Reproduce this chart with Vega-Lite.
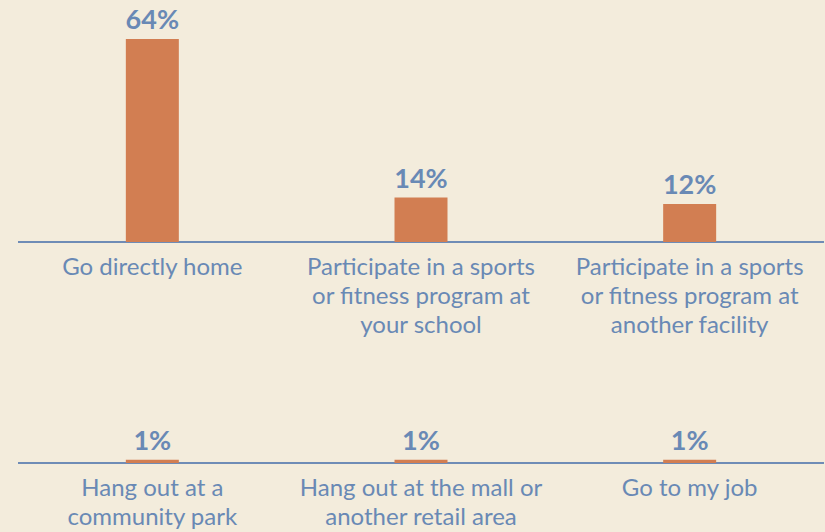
{
  "$schema": "https://vega.github.io/schema/vega-lite/v6.json",
  "background": "#f3ecdc",
  "autosize": {"type": "none"},
  "padding": {"left": 18, "top": 0, "right": 1, "bottom": 0},
  "width": 806,
  "height": 532,
  "data": {
    "values": [
      {"row": 1, "col": 1, "value": 0.64, "label": "Go directly home"},
      {"row": 1, "col": 2, "value": 0.14, "label": "Participate in a sports\nor fitness program at\nyour school"},
      {"row": 1, "col": 3, "value": 0.12, "label": "Participate in a sports\nor fitness program at\nanother facility"},
      {"row": 2, "col": 1, "value": 0.01, "label": "Hang out at a\ncommunity park"},
      {"row": 2, "col": 2, "value": 0.01, "label": "Hang out at the mall or\nanother retail area"},
      {"row": 2, "col": 3, "value": 0.01, "label": "Go to my job"}
    ]
  },
  "resolve": {"scale": {"y": "independent"}},
  "layer": [
    {
      "transform": [{"filter": "datum.row == 1"}],
      "layer": [
        {
          "mark": {"type": "rule", "color": "#6f8cb6", "strokeWidth": 2},
          "encoding": {
            "y": {"datum": 0, "type": "quantitative", "scale": {"domain": [-0.9148, 0.7634], "nice": false}, "axis": null}
          }
        },
        {
          "mark": {"type": "bar", "color": "#d27e52", "width": 53},
          "encoding": {
            "x": {"field": "col", "type": "ordinal", "axis": null, "scale": {"paddingInner": 0, "paddingOuter": 0}},
            "y": {"field": "value", "type": "quantitative", "axis": null}
          }
        },
        {
          "mark": {"type": "text", "color": "#6989b5", "font": "Lato", "fontWeight": "bold", "fontSize": 27, "baseline": "alphabetic", "align": "center", "dy": -10},
          "encoding": {
            "x": {"field": "col", "type": "ordinal", "axis": null},
            "y": {"field": "value", "type": "quantitative", "axis": null},
            "text": {"field": "value", "type": "quantitative", "format": ".0%"}
          }
        },
        {
          "mark": {"type": "text", "color": "#6989b5", "font": "Lato", "fontSize": 24, "baseline": "top", "align": "center", "dy": 14, "lineBreak": "\n", "lineHeight": 29},
          "encoding": {
            "x": {"field": "col", "type": "ordinal", "axis": null},
            "y": {"datum": 0, "type": "quantitative", "axis": null},
            "text": {"field": "label", "type": "nominal"}
          }
        }
      ]
    },
    {
      "transform": [{"filter": "datum.row == 2"}],
      "layer": [
        {
          "mark": {"type": "rule", "color": "#6f8cb6", "strokeWidth": 2},
          "encoding": {
            "y": {"datum": 0, "type": "quantitative", "scale": {"domain": [-0.2177, 1.4606], "nice": false}, "axis": null}
          }
        },
        {
          "mark": {"type": "bar", "color": "#d27e52", "width": 53},
          "encoding": {
            "x": {"field": "col", "type": "ordinal", "axis": null},
            "y": {"field": "value", "type": "quantitative", "axis": null}
          }
        },
        {
          "mark": {"type": "text", "color": "#6989b5", "font": "Lato", "fontWeight": "bold", "fontSize": 27, "baseline": "alphabetic", "align": "center", "dy": -10},
          "encoding": {
            "x": {"field": "col", "type": "ordinal", "axis": null},
            "y": {"field": "value", "type": "quantitative", "axis": null},
            "text": {"field": "value", "type": "quantitative", "format": ".0%"}
          }
        },
        {
          "mark": {"type": "text", "color": "#6989b5", "font": "Lato", "fontSize": 24, "baseline": "top", "align": "center", "dy": 14, "lineBreak": "\n", "lineHeight": 29},
          "encoding": {
            "x": {"field": "col", "type": "ordinal", "axis": null},
            "y": {"datum": 0, "type": "quantitative", "axis": null},
            "text": {"field": "label", "type": "nominal"}
          }
        }
      ]
    }
  ],
  "config": {"view": {"stroke": null}}
}
